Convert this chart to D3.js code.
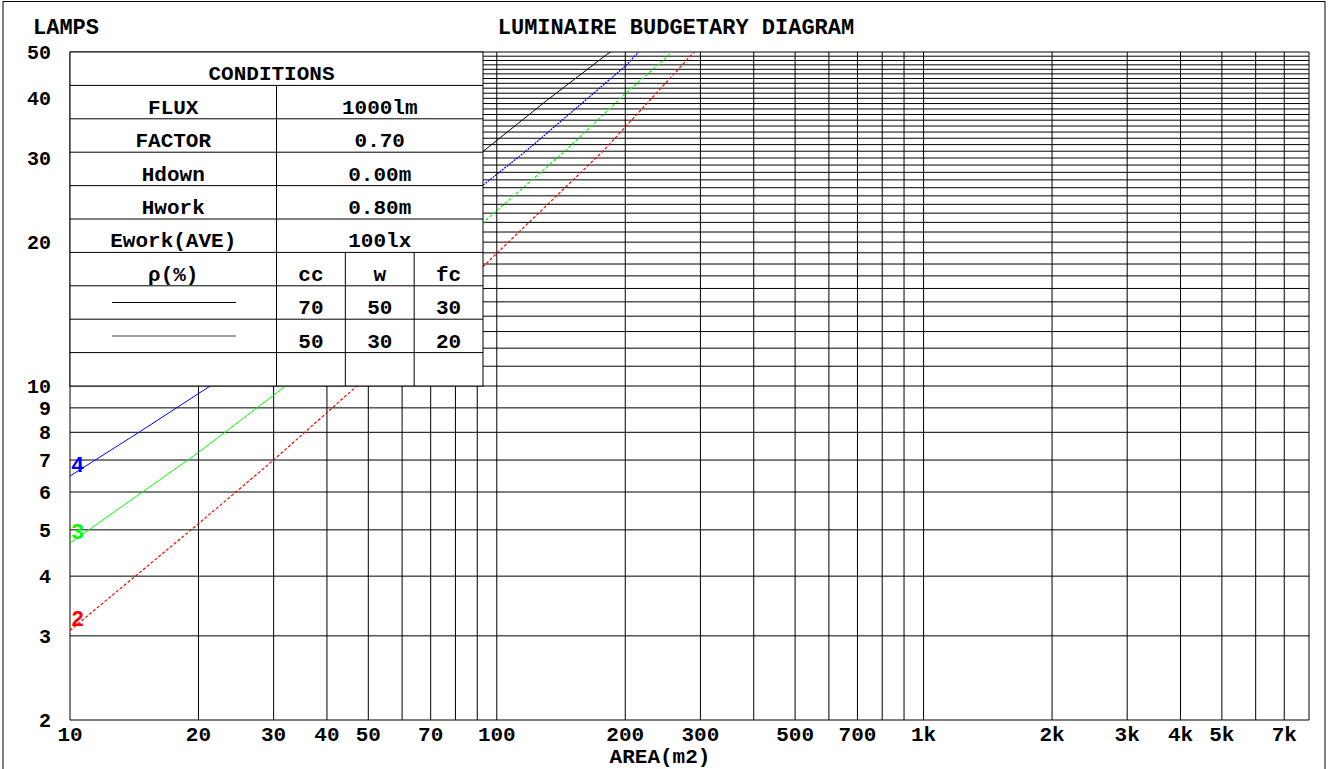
<!DOCTYPE html>
<html>
<head>
<meta charset="utf-8">
<script src="https://cdn.jsdelivr.net/npm/d3@7"></script>
<style>
  body { margin: 0; background: #fff; }
  text { font-family: "Liberation Mono", "Courier New", monospace; font-weight: bold; }
</style>
</head>
<body>
<div id="chart"></div>
<script>

// x grid (area, m2) and which of them get a label
var x_grid = [10, 20, 30, 40, 50, 60, 70, 80, 90,
              100, 200, 300, 400, 500, 600, 700, 800, 900,
              1000, 2000, 3000, 4000, 5000, 6000, 7000, 8000];
var x_labels = [10, 20, 30, 40, 50, 70, 100, 200, 300, 500, 700, 1000, 2000, 3000, 4000, 5000, 7000];

// y grid (lamps) and labels
var y_grid = d3.range(2, 51);
var y_labels = [2, 3, 4, 5, 6, 7, 8, 9, 10, 20, 30, 40, 50];

// curves: [area, lamps]
var curve2 = [[10, 3.08], [20, 5.15], [30, 7.0], [47, 10], [93, 17.8], [178, 31.1], [290, 50]];
var curve3 = [[10, 4.69], [20, 7.26], [32, 10], [93, 22], [145, 31.1], [200, 40.9], [249, 48.6], [257, 50]];
var curve4 = [[10, 6.48], [14.6, 8.03], [21.3, 10], [93.3, 26.4], [117.5, 31.1], [200, 46.7], [215, 50]];
var curve5 = [[20, 13.0], [93, 31.0], [131, 39.6], [182, 49.6], [185, 50]];   // start hidden by the table

var curve_names = ["2", "3", "4", "5"];

// conditions table
var cond_labels = ["FLUX", "FACTOR", "Hdown", "Hwork", "Ework(AVE)"];
var cond_values = ["1000lm", "0.70", "0.00m", "0.80m", "100lx"];
var rho_heads = ["cc", "w", "fc"];
var rho_rows = [[70, 50, 30], [50, 30, 20]];


var W = 1328, H = 769;

var svg = d3.select("#chart")
  .append("svg")
    .attr("width", W)
    .attr("height", H);

var x = d3.scaleLog().domain([10, 8000]).range([70, 1309]);
var y = d3.scaleLog().domain([2, 50]).range([720, 52]);

// outer frame
svg.append("rect")
  .attr("x", 3).attr("y", 1.5)
  .attr("width", 1322).attr("height", 800)
  .attr("fill", "none")
  .attr("stroke", "#000");

// vertical grid
svg.append("g")
  .selectAll("line")
  .data(x_grid)
  .enter()
  .append("line")
    .attr("x1", d => x(d)).attr("x2", d => x(d))
    .attr("y1", y(50)).attr("y2", y(2))
    .attr("stroke", "#000");

// horizontal grid
svg.append("g")
  .selectAll("line")
  .data(y_grid)
  .enter()
  .append("line")
    .attr("x1", x(10)).attr("x2", x(8000))
    .attr("y1", d => y(d)).attr("y2", d => y(d))
    .attr("stroke", "#000");

// tick labels
svg.append("g")
  .selectAll("text")
  .data(x_labels)
  .enter()
  .append("text")
    .attr("x", d => x(d))
    .attr("y", 741)
    .attr("text-anchor", "middle")
    .style("font-size", "21px")
    .text(d => d >= 1000 ? (d / 1000) + "k" : d);

svg.append("g")
  .selectAll("text")
  .data(y_labels)
  .enter()
  .append("text")
    .attr("x", 51)
    .attr("y", d => y(d))
    .attr("dy", "0.35em")
    .attr("text-anchor", "end")
    .style("font-size", "20px")
    .text(d => d);

// titles
svg.append("text").attr("x", 33).attr("y", 34).style("font-size", "22px").text("LAMPS");
svg.append("text").attr("x", 676).attr("y", 34).attr("text-anchor", "middle")
  .style("font-size", "22px").text("LUMINAIRE BUDGETARY DIAGRAM");
svg.append("text").attr("x", 660).attr("y", 763).attr("text-anchor", "middle")
  .style("font-size", "21px").text("AREA(m2)");

// curves
var curves = [curve2, curve3, curve4, curve5];
var colors = ["#ff0000", "#00ff00", "#0000ff", "#000000"];
var dash_from = [10, 32, 21.3, Infinity];   // area after which a curve is dashed
var dashes = ["3,2", "3,2", "2,1", null];

svg.append("clipPath").attr("id", "plotclip")
  .append("rect")
    .attr("x", x(10)).attr("y", y(50))
    .attr("width", x(8000) - x(10)).attr("height", y(2) - y(50));

var line = d3.line()
  .x(d => x(d[0]))
  .y(d => y(d[1]));

var curve_g = svg.append("g").attr("clip-path", "url(#plotclip)");

curves.forEach(function(c, i) {
  var solid = c.filter(d => d[0] <= dash_from[i]);
  var dashed = c.filter(d => d[0] >= dash_from[i]);
  if (solid.length > 1) {
    curve_g.append("path")
      .attr("d", line(solid))
      .attr("fill", "none")
      .attr("stroke", colors[i])
      .attr("stroke-width", 1);
  }
  if (dashed.length > 1) {
    curve_g.append("path")
      .attr("d", line(dashed))
      .attr("fill", "none")
      .attr("stroke", colors[i])
      .attr("stroke-width", 1.2)
      .attr("stroke-dasharray", dashes[i]);
  }
  // number at the start of each curve
  svg.append("text")
    .attr("x", x(c[0][0]) + 1)
    .attr("y", y(c[0][1]) - 4)
    .attr("fill", colors[i])
    .style("font-size", "22px")
    .text(curve_names[i]);
});

// conditions table, drawn over the grid
var t_left = x(10), t_right = 483, t_top = y(50), t_bot = y(10);
var row_h = (t_bot - t_top) / 10;
var t_mid = (t_left + t_right) / 2;
var sub_w = (t_right - t_mid) / 3;

var table = svg.append("g");

table.append("rect")
  .attr("x", t_left).attr("y", t_top)
  .attr("width", t_right - t_left).attr("height", t_bot - t_top)
  .attr("fill", "#fff")
  .attr("stroke", "#000");

// row lines
table.selectAll("line.row")
  .data(d3.range(1, 10))
  .enter()
  .append("line")
    .attr("class", "row")
    .attr("x1", t_left).attr("x2", t_right)
    .attr("y1", d => t_top + d * row_h).attr("y2", d => t_top + d * row_h)
    .attr("stroke", "#000");

// middle column line
table.append("line")
  .attr("x1", t_mid).attr("x2", t_mid)
  .attr("y1", t_top + row_h).attr("y2", t_bot)
  .attr("stroke", "#000");

// sub-columns for reflectances
[1, 2].forEach(function(k) {
  table.append("line")
    .attr("x1", t_mid + k * sub_w).attr("x2", t_mid + k * sub_w)
    .attr("y1", t_top + 6 * row_h).attr("y2", t_bot)
    .attr("stroke", "#000");
});

function cell_text(cx, row, txt) {
  table.append("text")
    .attr("x", cx)
    .attr("y", t_top + (row + 1) * row_h - 5)
    .attr("text-anchor", "middle")
    .style("font-size", "21px")
    .text(txt);
}

cell_text(t_mid - 5, 0, "CONDITIONS");
cond_labels.forEach((d, i) => cell_text((t_left + t_mid) / 2, i + 1, d));
cond_values.forEach((d, i) => cell_text((t_mid + t_right) / 2, i + 1, d));
cell_text((t_left + t_mid) / 2, 6, "\u03c1(%)");
rho_heads.forEach((d, i) => cell_text(t_mid + (i + 0.5) * sub_w, 6, d));
rho_rows.forEach(function(r, j) {
  r.forEach((d, i) => cell_text(t_mid + (i + 0.5) * sub_w, 7 + j, d));
  // legend sample line
  table.append("line")
    .attr("x1", 112).attr("x2", 236)
    .attr("y1", t_top + (7 + j + 0.5) * row_h).attr("y2", t_top + (7 + j + 0.5) * row_h)
    .attr("stroke", j == 0 ? "#000" : "#808080")
    .attr("stroke-width", j == 0 ? 1 : 1.5);
});

</script>
</body>
</html>
